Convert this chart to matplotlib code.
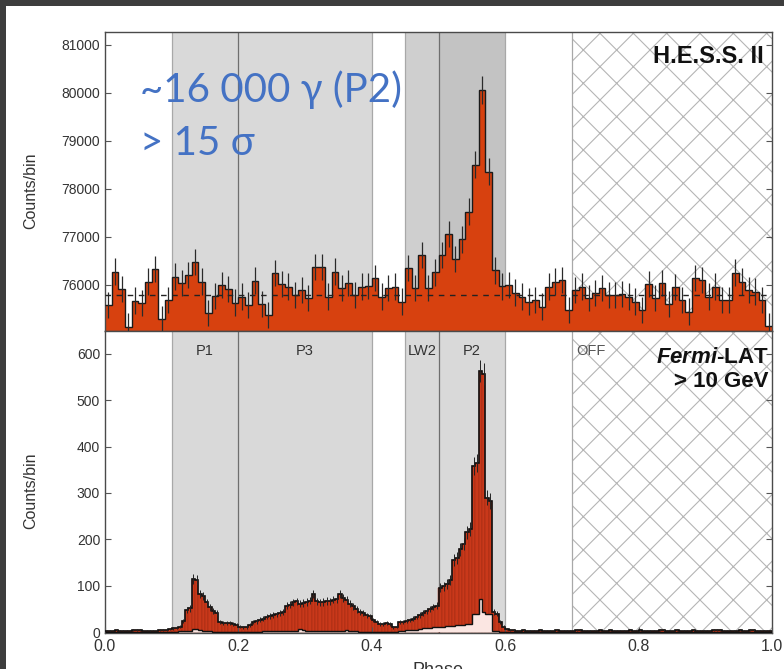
import numpy as np
import matplotlib
matplotlib.use("Agg")
import matplotlib.pyplot as plt
from matplotlib.patches import Rectangle

plt.rcParams['font.family'] = ['Liberation Sans', 'DejaVu Sans']
plt.rcParams['hatch.linewidth'] = 0.8
plt.rcParams['mathtext.fontset'] = 'custom'
plt.rcParams['mathtext.bfit'] = 'Liberation Sans:italic:bold'

# ---- H.E.S.S. II phasogram (100 bins in phase) ----
hess_edges = np.linspace(0.0, 1.0, 101)
hess_counts = [
    75584, 76278, 75911, 75133, 75675, 75619, 76070, 76327, 75286, 75689,
    76174, 76036, 76209, 76473, 76070, 75411, 75772, 76001, 75911, 75633,
    75758, 75584, 76091, 75605, 75376, 76244, 76022, 75966, 75793, 75897,
    75723, 76369, 76369, 75758, 76278, 75931, 76036, 75793, 75966, 75980,
    76140, 75758, 75931, 75966, 75654, 76350, 75933, 76627, 75933, 76260,
    76627, 77064, 76537, 76953, 77529, 78501, 80062, 78362, 76301, 75968,
    76000, 75841, 75758, 75654, 75689, 75550, 75966, 76070, 76105, 75480,
    75897, 75966, 75723, 75827, 75931, 75793, 75793, 75814, 75758, 75654,
    75480, 76022, 75723, 76036, 75605, 75952, 75689, 75446, 76140, 76105,
    75758, 75966, 75689, 75689, 76258, 76070, 75897, 75862, 75689, 75150,
]
hess_background = 75780

# ---- Fermi-LAT > 10 GeV phasogram (200 bins in phase) ----
lat_edges = np.linspace(0.0, 1.0, 201)
lat_counts = [
    3, 2, 3, 4, 3, 2, 3, 3, 4, 5, 4, 3, 3, 2, 3, 3, 4, 4, 5, 6,
    8, 9, 12, 24, 48, 51, 114, 112, 82, 77, 64, 53, 46, 42, 22, 20, 19, 19, 18, 15,
    12, 10, 11, 15, 21, 23, 27, 29, 33, 35, 37, 38, 42, 44, 57, 59, 64, 66, 61, 63,
    65, 68, 82, 66, 64, 65, 67, 66, 70, 71, 82, 74, 70, 61, 56, 49, 44, 41, 36, 34,
    26, 22, 17, 17, 19, 17, 10, 12, 22, 22, 24, 26, 29, 33, 37, 41, 46, 50, 54, 57,
    96, 99, 104, 112, 155, 160, 178, 190, 215, 222, 358, 364, 562, 556, 290, 283, 44, 40, 21, 12,
    7, 5, 4, 3, 3, 4, 3, 2, 3, 3, 4, 3, 3, 2, 3, 4, 3, 3, 2, 3,
    3, 4, 5, 3, 3, 2, 3, 3, 4, 3, 3, 4, 3, 3, 3, 2, 3, 4, 3, 3,
    4, 3, 3, 2, 3, 3, 4, 5, 3, 3, 3, 4, 3, 2, 3, 3, 4, 3, 3, 2,
    3, 3, 4, 5, 4, 3, 3, 3, 2, 3, 4, 3, 3, 4, 5, 3, 3, 2, 3, 3,
]
lat_counts_high = [
    1, 1, 0, 1, 1, 1, 0, 1, 1, 1, 1, 0, 1, 1, 1, 1, 0, 1, 1, 1,
    1, 1, 2, 2, 3, 3, 6, 7, 5, 2, 2, 2, 1, 1, 1, 1, 1, 1, 1, 1,
    1, 1, 1, 1, 1, 1, 1, 2, 2, 2, 2, 2, 2, 2, 3, 3, 3, 3, 6, 5,
    3, 2, 2, 2, 2, 2, 2, 2, 2, 2, 2, 2, 4, 2, 2, 2, 1, 1, 1, 1,
    1, 1, 1, 1, 1, 1, 1, 1, 2, 2, 4, 4, 5, 5, 7, 8, 8, 9, 10, 10,
    12, 12, 13, 14, 14, 15, 16, 16, 17, 18, 38, 40, 72, 44, 40, 38, 3, 2, 1, 1,
    1, 1, 1, 1, 0, 1, 1, 1, 0, 1, 1, 1, 1, 0, 1, 1, 1, 1, 0, 1,
    1, 1, 0, 1, 1, 1, 1, 0, 1, 1, 1, 1, 0, 1, 1, 1, 1, 1, 0, 1,
    1, 1, 1, 0, 1, 1, 1, 1, 0, 1, 1, 1, 1, 1, 0, 1, 1, 1, 1, 0,
    1, 1, 1, 1, 0, 1, 1, 1, 1, 1, 0, 1, 1, 1, 1, 0, 1, 1, 1, 1,
]

# ---- phase ranges ----
region_names = ["P1", "P3", "LW2", "P2"]
region_starts = [0.10, 0.20, 0.45, 0.50]
region_ends = [0.20, 0.40, 0.50, 0.60]
region_label_x = [0.15, 0.30, 0.475, 0.55]
hess_region_colors = ["#d9d9d9", "#d9d9d9", "#cfcfcf", "#c3c3c3"]
off_start, off_end = 0.70, 1.00

hess_red = "#d7410f"
lat_red = "#c9381a"
lat_pink = "#fbe6e2"

W, H = 784, 669
fig = plt.figure(figsize=(W / 100, H / 100), dpi=100)
x0, x1 = 105 / W, 772 / W
ax_top = fig.add_axes([x0, 1 - 331 / H, x1 - x0, (331 - 32) / H])
ax_bot = fig.add_axes([x0, 1 - 633 / H, x1 - x0, (633 - 331) / H], sharex=ax_top)


def draw_regions(ax, colors):
    for s, e, c in zip(region_starts, region_ends, colors):
        ax.axvspan(s, e, facecolor=c, edgecolor="none", zorder=0)
    ax.axvspan(off_start, off_end, facecolor="none", edgecolor="#b5b5b5",
               hatch="x", linewidth=0, zorder=0.5)
    for xb in [0.10, 0.40, 0.45, 0.60, 0.70]:
        ax.axvline(xb, color="#a8a8a8", lw=0.9, zorder=0.6)
    for xb in [0.20, 0.50]:
        ax.axvline(xb, color="#6f6f6f", lw=0.9, zorder=0.6)


# ---- top: H.E.S.S. II ----
hess = np.array(hess_counts, dtype=float)
hess_centers = 0.5 * (hess_edges[:-1] + hess_edges[1:])
draw_regions(ax_top, hess_region_colors)
ax_top.stairs(hess, hess_edges, baseline=75040, fill=True, color=hess_red, zorder=2)
ax_top.stairs(hess, hess_edges, baseline=None, color="#1a1a1a", lw=1.0, zorder=3)
ax_top.errorbar(hess_centers, hess, yerr=np.sqrt(hess), fmt="none",
                ecolor="#2a2a2a", elinewidth=0.9, zorder=3)
ax_top.axhline(hess_background, color="#222222", lw=1.0, ls=(0, (4, 4)), zorder=4)
ax_top.set_ylim(75040, 81270)
ax_top.set_yticks([76000, 77000, 78000, 79000, 80000, 81000])
ax_top.text(0.988, 80620, "H.E.S.S. II", ha="right", va="baseline",
            fontsize=17, fontweight="bold", color="#111111", zorder=5)

# ---- bottom: Fermi-LAT ----
lat = np.array(lat_counts, dtype=float)
lat_hi = np.array(lat_counts_high, dtype=float)
lat_centers = 0.5 * (lat_edges[:-1] + lat_edges[1:])
lat_width = lat_edges[1] - lat_edges[0]
draw_regions(ax_bot, ["#d9d9d9"] * 4)
ax_bot.bar(lat_centers, lat, width=lat_width, color=lat_red,
           edgecolor="#9a2a12", linewidth=0.35, zorder=2)
ax_bot.stairs(lat, lat_edges, baseline=None, color="#111111", lw=1.2, zorder=3)
ax_bot.errorbar(lat_centers, lat, yerr=np.sqrt(lat), fmt="none",
                ecolor="#222222", elinewidth=0.7, zorder=3)
ax_bot.stairs(lat_hi, lat_edges, baseline=0, fill=True, color=lat_pink, zorder=3.5)
ax_bot.stairs(lat_hi, lat_edges, baseline=None, color="#111111", lw=1.0, zorder=3.6)
ax_bot.set_ylim(-2, 649)
ax_bot.set_yticks([0, 100, 200, 300, 400, 500, 600])
ax_bot.set_xlim(0, 1)
ax_bot.set_xticks([0.0, 0.2, 0.4, 0.6, 0.8, 1.0])
ax_bot.set_xticklabels(["0.0", "0.2", "0.4", "0.6", "0.8", "1.0"])
ax_bot.set_xlabel("Phase", fontsize=13, color="#333333", labelpad=6)

for name, xl in zip(region_names, region_label_x):
    ax_bot.text(xl, 606, name, ha="center", va="center", fontsize=10.5,
                color="#333333", zorder=5)
ax_bot.text(0.707, 606, "OFF", ha="left", va="center", fontsize=10.5,
            color="#555555", zorder=5)
ax_bot.text(0.995, 581, r"$\bfit{Fermi}$" + "-LAT", ha="right", va="baseline",
            fontsize=16, fontweight="bold", color="#111111", zorder=5)
ax_bot.text(0.995, 529, "> 10 GeV", ha="right", va="baseline",
            fontsize=16, fontweight="bold", color="#111111", zorder=5)

# ---- shared axis styling ----
for ax in (ax_top, ax_bot):
    ax.set_ylabel("Counts/bin", fontsize=11.5, color="#333333")
    ax.yaxis.set_label_coords(-0.1, 0.47)
    ax.tick_params(direction="in", length=4, width=0.8, color="#555555",
                   labelsize=10, labelcolor="#333333", right=True)
    for sp in ax.spines.values():
        sp.set_color("#4a4a4a")
        sp.set_linewidth(1.0)
    ax.set_axisbelow(False)
ax_top.tick_params(labelbottom=False, bottom=False)
ax_bot.tick_params(axis="x", labelsize=11.5, pad=4)

# ---- annotation overlay ----
blue = "#4472c4"
fig.text(140 / W, 1 - 102 / H, "~16 000 \u03b3 (P2)", fontsize=29, color=blue,
         family=["Lato", "DejaVu Sans"], va="baseline", ha="left", zorder=10)
fig.text(140 / W, 1 - 155 / H, "> 15 \u03c3", fontsize=29, color=blue,
         family=["Lato", "DejaVu Sans"], va="baseline", ha="left", zorder=10)

# dark slide frame along top and left edges
fig.patches.append(Rectangle((0, 1 - 6 / H), 1, 6 / H, transform=fig.transFigure,
                             facecolor="#3d3d3d", edgecolor="none", zorder=20))
fig.patches.append(Rectangle((0, 0), 6 / W, 1, transform=fig.transFigure,
                             facecolor="#3d3d3d", edgecolor="none", zorder=20))

fig.savefig("out.png", dpi=100)
